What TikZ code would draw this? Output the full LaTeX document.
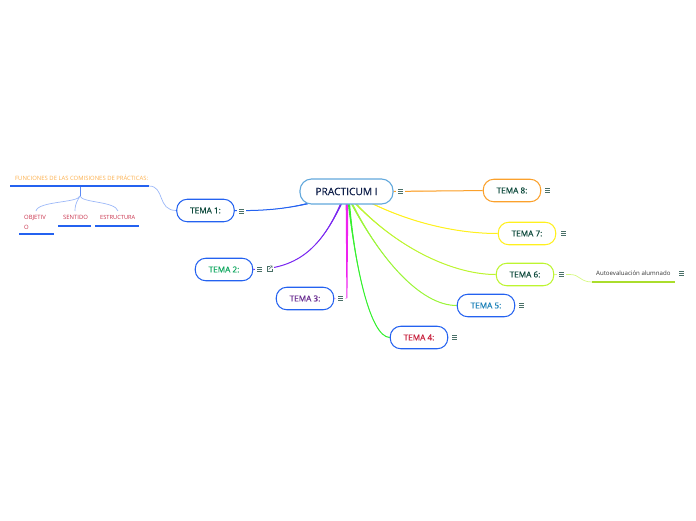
\documentclass[tikz,border=0pt]{standalone}
\usepackage{fontspec}
\setmainfont{Open Sans}
\newfontfamily\semifont[FakeBold=0.6]{Open Sans}
\usetikzlibrary{backgrounds,calc}
\definecolor{boxblue}{HTML}{2462F0}
\definecolor{rootblue}{HTML}{62A8DC}
\definecolor{ic}{HTML}{4A7068}
\definecolor{dkgreen}{HTML}{0E4A3C}
\definecolor{navy}{HTML}{10204A}
\definecolor{cOrange}{HTML}{FBA12C}
\definecolor{cYellow}{HTML}{FFF01E}
\definecolor{cLime}{HTML}{BDF531}
\definecolor{cLime2}{HTML}{9CF53A}
\definecolor{cGreen}{HTML}{35F02E}
\definecolor{cMag}{HTML}{EE22EE}
\definecolor{cPurple}{HTML}{7A28F0}
\definecolor{cRed}{HTML}{C8304A}
\tikzset{
 tema/.style={draw=#1,line width=1.05pt,rounded corners=10.5pt,minimum width=57.5pt,minimum height=22.5pt,inner sep=0pt,fill=white,font=\semifont\fontsize{8.2}{10}\selectfont},
 root/.style={draw=rootblue,line width=1.1pt,rounded corners=11.5pt,minimum width=93pt,minimum height=25pt,inner sep=0pt,fill=white,text=navy,font=\semifont\fontsize{10.2}{12}\selectfont},
 menu/.style={minimum width=9pt,minimum height=7pt,inner sep=0pt,fill=white,path picture={
   \foreach \yy in {-2,0,2}{\draw[ic,line width=0.65pt] ($(path picture bounding box.center)+(-2.5,\yy)$)--($(path picture bounding box.center)+(2.5,\yy)$);}}},
 smalltxt/.style={inner sep=0pt,font=\fontsize{5.9}{10}\selectfont},
 uline/.style={line width=1.3pt,boxblue},
 lightcurve/.style={line width=0.7pt,draw=#1},
}
\newcommand{\taper}[7]{\fill[#1] ($(#2)+(#3,#4)$) .. controls (#5) and (#6) .. (#7) .. controls (#6) and (#5) .. ($(#2)-(#3,#4)$) -- cycle;
 \draw[#1,line width=1pt] (#2) .. controls (#5) and (#6) .. (#7);}
\begin{document}
\begin{tikzpicture}[x=1pt,y=-1pt]
\useasboundingbox (0,0) rectangle (696,520);
\node[root] (root) at (346.5,191.5) {PRACTICUM I};
\node[tema=boxblue,text=dkgreen] (t1) at (205.5,210.5) {TEMA 1:};
\node[tema=boxblue] (t2) at (224,269.5) {\textcolor[HTML]{10A860}{TEMA 2:}};
\node[tema=boxblue] (t3) at (305,298.5) {\textcolor[HTML]{6A2D91}{TEMA 3:}};
\node[tema=boxblue] (t4) at (419,337.5) {\textcolor[HTML]{C8203C}{TEMA 4:}};
\node[tema=boxblue] (t5) at (486,305.5) {\textcolor[HTML]{1A80B8}{TEMA 5:}};
\node[tema=cLime,text=dkgreen] (t6) at (525,274.5) {TEMA 6:};
\node[tema=cYellow,text=dkgreen] (t7) at (527,233.5) {TEMA 7:};
\node[tema=cOrange,text=dkgreen] (t8) at (512,190.5) {TEMA 8:};
\node[menu] (m0) at (400.5,191) {};
\node[menu] (m1) at (241.5,211) {};
\node[menu] (m2) at (259.5,269) {};
\node[minimum width=12pt,minimum height=8pt,inner sep=0pt,fill=white] (e2) at (268,268.5) {};
\draw[ic,line width=0.5pt] (269.5,268.5)++(0.5,-2.5)--++(-3,0)--++(0,5.5)--++(5.5,0)--++(0,-2.8);
\draw[ic,line width=0.5pt] (269.5,268.5)++(-0.8,1)--++(3.5,-3.6) ++(-2.2,0)--++(2.2,0)--++(0,2.2);
\node[menu] (m3) at (340.5,298.5) {};
\node[menu] (m4) at (454.5,337.5) {};
\node[menu] (m5) at (521.5,305.5) {};
\node[menu] (m6) at (561.5,274.5) {};
\node[menu] (m7) at (563.5,233.5) {};
\node[menu] (m8) at (547.5,190.5) {};
\node[menu] (m9) at (681.5,273.5) {};
\node[smalltxt,text=black!80,anchor=west,font=\fontsize{6.1}{10}\selectfont] (auto) at (596,273.5) {Autoevaluación alumnado};
\coordinate (a1) at (592,282); \coordinate (a2) at (675,282);
\node[smalltxt,text=cOrange!85!white,anchor=west] (fun) at (15,177.5) {FUNCIONES DE LAS COMISIONES DE PRÁCTICAS:};
\coordinate (f1) at (10,186); \coordinate (f2) at (149,186); \coordinate (fm) at (80,186); \coordinate (fj) at (80,196);
\node[smalltxt,text=cRed,anchor=north west,align=left] (c1) at (24,215) {OBJETIV\\O};
\node[smalltxt,text=cRed,anchor=west] (c2) at (63,217.5) {SENTIDO};
\node[smalltxt,text=cRed,anchor=west,font=\fontsize{5.7}{10}\selectfont] (c3) at (100,217.5) {ESTRUCTURA};
\coordinate (u1a) at (19,234); \coordinate (u1b) at (54,234);
\coordinate (u2a) at (58,226); \coordinate (u2b) at (91,226);
\coordinate (u3a) at (95,226); \coordinate (u3b) at (139,226);
\coordinate (k1) at (36,211); \coordinate (k2) at (75,211); \coordinate (k3) at (118,211);
\begin{scope}[on background layer]
 \coordinate (r1) at (308,203.5); \coordinate (r2) at (341,204); \coordinate (r4) at (349,204);
 \coordinate (r5) at (352,204); \coordinate (r6) at (356,204); \coordinate (r7) at (372,203.5);
 \taper{boxblue}{r1}{0}{0.7}{285,209}{262,211}{t1.east}
 \taper{cPurple}{r2}{1}{0}{322,245}{300,269}{t2.east}
 \fill[cMag] (345.7,204) -- (348.3,204) -- (347.4,298) -- (346.4,298) -- cycle;
 \draw[cMag!30,line width=0.6pt] (346.7,298.5) -- (t3.east);
 \taper{cGreen}{r4}{1.1}{0}{355,265}{370,337}{t4.west}
 \taper{cLime2}{r5}{1.1}{0}{380,258}{420,305.5}{t5.west}
 \taper{cLime}{r6}{1.1}{0}{400,250}{455,274.5}{t6.west}
 \taper{cYellow}{r7}{0.9}{0}{410,222}{455,233.5}{t7.west}
 \taper{cOrange}{root.east}{0}{0.5}{420,191}{450,191}{t8.west}
 \draw[lightcurve=cLime!60!white] (t6.east) -- (570,274.5) .. controls (580,274.5) and (580,282) .. (a1);
 \draw[lightcurve=boxblue!45!white] (f2) .. controls (165,186) and (157,210.5) .. (t1.west);
 \draw[line width=0.8pt,boxblue!75!white] (fm) -- (fj);
 \draw[lightcurve=boxblue!45!white] (fj) .. controls (78,203) and (38,201) .. (k1);
 \draw[lightcurve=boxblue!45!white] (fj) .. controls (78,200) and (75,203) .. (k2);
 \draw[lightcurve=boxblue!45!white] (fj) .. controls (82,203) and (115,201) .. (k3);
\end{scope}
\draw[uline] (f1) -- (f2);
\draw[uline] (u1a) -- (u1b);
\draw[uline] (u2a) -- (u2b);
\draw[uline] (u3a) -- (u3b);
\draw[line width=1.6pt,cLime!90!black] (a1) -- (a2);
\end{tikzpicture}
\end{document}
